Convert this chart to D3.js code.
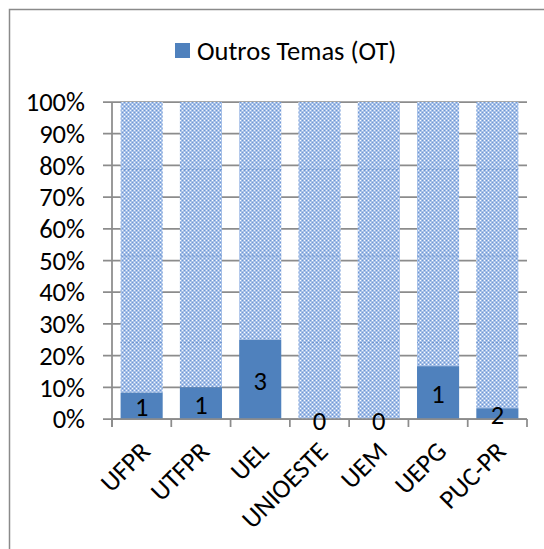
<!DOCTYPE html>
<html><head><meta charset="utf-8">
<script src="https://cdn.jsdelivr.net/npm/d3@7/dist/d3.min.js"></script>
<style>
html,body{margin:0;padding:0;background:#fff;}
svg{display:block;}
text{font-family:Carlito,Calibri,Lato,"Noto Sans",sans-serif;fill:#000;}
</style></head>
<body>
<script>
// ---- data ----
const categories = ["UFPR","UTFPR","UEL","UNIOESTE","UEM","UEPG","PUC-PR"];
const otCounts     = [1, 1, 3, 0, 0, 1, 2];     // Outros Temas (OT)
const othersCounts = [11, 9, 9, 4, 3, 5, 57];   // remaining themes (patterned)
const seriesNames  = ["Outros Temas (OT)", "Outros"];
const yTicks = [0,0.1,0.2,0.3,0.4,0.5,0.6,0.7,0.8,0.9,1];

const W = 544, H = 549;
const svg = d3.select("body").append("svg").attr("width", W).attr("height", H);

// pattern
const defs = svg.append("defs");
const pat = defs.append("pattern").attr("id","chk").attr("patternUnits","userSpaceOnUse")
  .attr("width",4).attr("height",4);
pat.append("rect").attr("width",4).attr("height",4).attr("fill","#a6c0e8");
pat.append("rect").attr("x",0).attr("y",0).attr("width",1).attr("height",1).attr("fill","#ffffff");
pat.append("rect").attr("x",2).attr("y",2).attr("width",1).attr("height",1).attr("fill","#eef3fb");
pat.append("rect").attr("x",2).attr("y",0).attr("width",1).attr("height",1).attr("fill","#6f98d4");
pat.append("rect").attr("x",0).attr("y",2).attr("width",1).attr("height",1).attr("fill","#6f98d4");

// outer border
svg.append("rect").attr("x",9.5).attr("y",9.5).attr("width",W+20).attr("height",H+20)
  .attr("fill","#fff").attr("stroke","#8a8a8a").attr("stroke-width",1.5);

const x0 = 112, x1 = 527, yBot = 419, yTop = 102;
const x = d3.scaleBand().domain(categories).range([x0,x1]).paddingInner(0.29).paddingOuter(0.145);
const y = d3.scaleLinear().domain([0,1]).range([yBot,yTop]);

// seam pattern (texture tiling seams)
const seamPeriod = y(0) - y(0.273);
const seam = defs.append("pattern").attr("id","seam").attr("patternUnits","userSpaceOnUse")
  .attr("width",4).attr("height",seamPeriod).attr("y", y(0.243) - seamPeriod*4);
seam.append("rect").attr("x",0).attr("y",0).attr("width",2).attr("height",1).attr("fill","#6890cc").attr("opacity",0.8);

const gridColor = "#8c8c8c";
// gridlines
svg.append("g").selectAll("line").data(yTicks).join("line")
  .attr("x1", x0-9).attr("x2", x1).attr("y1", d=>y(d)).attr("y2", d=>y(d))
  .attr("stroke", gridColor).attr("stroke-width",1.75);

// stack
const rows = categories.map((c,i)=>({cat:c, ot:otCounts[i], others:othersCounts[i]}));
const stack = d3.stack().keys(["ot","others"]).offset(d3.stackOffsetExpand);
const layers = stack(rows);

svg.append("g").selectAll("rect").data(layers[1]).join("rect")
  .attr("x", d=>x(d.data.cat)).attr("width", x.bandwidth())
  .attr("y", d=>y(d[1])).attr("height", d=>y(d[0])-y(d[1]))
  .attr("fill","url(#chk)");
svg.append("g").selectAll("rect").data(layers[1]).join("rect")
  .attr("x", d=>x(d.data.cat)).attr("width", x.bandwidth())
  .attr("y", d=>y(d[1])).attr("height", d=>y(d[0])-y(d[1]))
  .attr("fill","url(#seam)");
svg.append("g").selectAll("rect").data(layers[0]).join("rect")
  .attr("x", d=>x(d.data.cat)).attr("width", x.bandwidth())
  .attr("y", d=>y(d[1])).attr("height", d=>y(d[0])-y(d[1]))
  .attr("fill","#4f81bd");

// axes lines
svg.append("line").attr("x1",x0).attr("x2",x0).attr("y1",yTop).attr("y2",yBot+8)
  .attr("stroke",gridColor).attr("stroke-width",1.75);
svg.append("line").attr("x1",x0).attr("x2",x1).attr("y1",yBot).attr("y2",yBot)
  .attr("stroke",gridColor).attr("stroke-width",1.75);
const bounds = d3.range(categories.length+1).map(i=>x0 + i*x.step());
svg.append("g").selectAll("line").data(bounds).join("line")
  .attr("x1",d=>d).attr("x2",d=>d).attr("y1",yBot).attr("y2",yBot+8)
  .attr("stroke",gridColor).attr("stroke-width",1.75);

const fs = 26.5;
// y labels
svg.append("g").selectAll("text").data(yTicks).join("text")
  .attr("x", x0-27).attr("y", d=>y(d)).attr("dy","0.35em")
  .attr("text-anchor","end").attr("font-size",fs)
  .text(d=>d3.format(".0%")(d));

// x labels
svg.append("g").selectAll("text").data(categories).join("text")
  .attr("transform", c=>`translate(${x(c)+x.bandwidth()/2+10},${yBot+34}) rotate(-45)`)
  .attr("text-anchor","end").attr("font-size",fs)
  .text(c=>c);

// value labels
svg.append("g").selectAll("text").data(layers[0]).join("text")
  .attr("x", d=>x(d.data.cat)+x.bandwidth()/2)
  .attr("y", d=>(y(d[0])+y(d[1]))/2 + 1).attr("dy","0.36em")
  .attr("text-anchor","middle").attr("font-size",fs)
  .text((d,i)=>otCounts[i]);

// legend
const lg = svg.append("g").attr("transform","translate(175,43)");
lg.append("rect").attr("width",15).attr("height",15).attr("fill","#4f81bd");
lg.append("text").attr("x",22).attr("y",7.5).attr("dy","0.36em").attr("font-size",fs).text(seriesNames[0]);
</script>
</body></html>
